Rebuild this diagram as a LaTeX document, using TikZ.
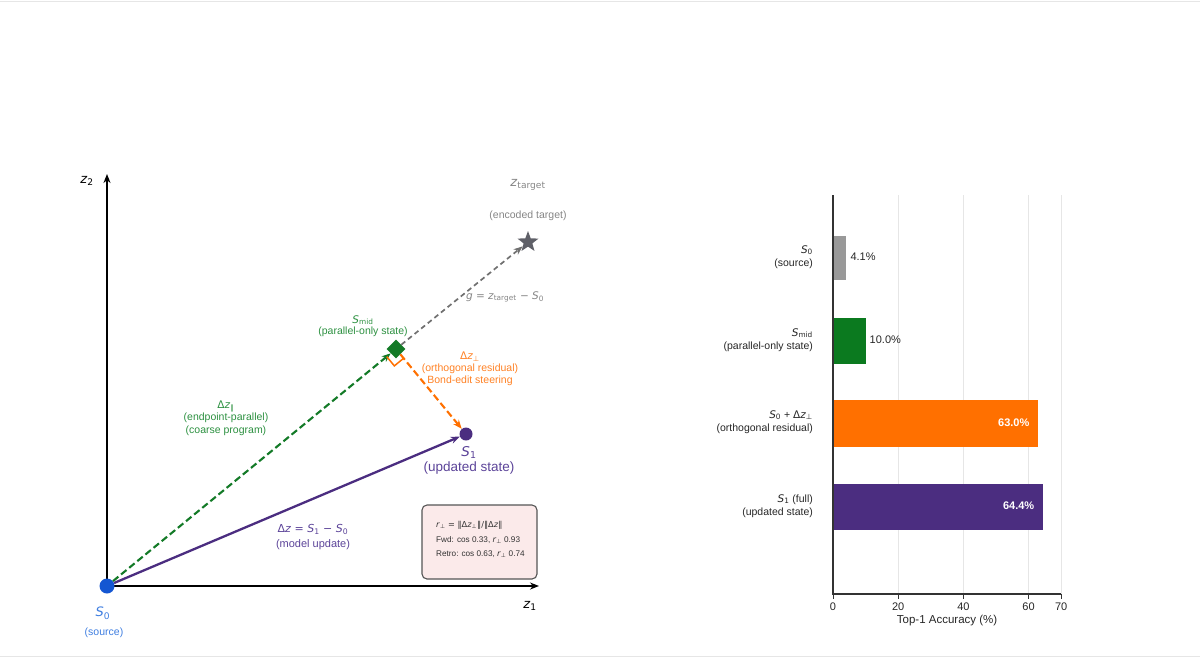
\documentclass[tikz,border=0pt]{standalone}
\usepackage{fontspec}
\setmainfont{Liberation Sans}
\newfontfamily\mfont{DejaVu Sans}
\usepackage{tikz}
\usetikzlibrary{positioning, calc, shapes.geometric, arrows.meta}
\definecolor{SrcBlue}{HTML}{1456D2}
\definecolor{SrcText}{HTML}{3F7EE0}
\definecolor{MidGreen}{HTML}{137A27}
\definecolor{MidText}{HTML}{2C9040}
\definecolor{PerpOrange}{HTML}{FF7000}
\definecolor{PerpText}{HTML}{FF8124}
\definecolor{UpdPurple}{HTML}{4B2D80}
\definecolor{UpdText}{HTML}{5C4499}
\definecolor{TgtGray}{HTML}{5F6068}
\definecolor{TgtLine}{HTML}{707070}
\definecolor{TgtText}{HTML}{858585}
\definecolor{BoxFill}{HTML}{FBEAEA}
\definecolor{BoxEdge}{HTML}{555555}
\definecolor{BarGray}{HTML}{999999}
\definecolor{BarGreen}{HTML}{0B7A1F}
\definecolor{GridGray}{HTML}{E6E6E6}
\definecolor{SpineDark}{HTML}{333333}

\newcommand{\sym}[2]{{\mfont\textit{#1}\textsubscript{#2}}}
\newcommand{\dzs}[1]{{\mfont Δ\textit{z}\textsubscript{#1}}}

\tikzset{
  dot/.style={circle, inner sep=0pt},
  vec/.style={-{Stealth[length=9pt, width=7pt]}},
  lab/.style={font=\fontsize{10.5}{12.5}\selectfont, align=center, inner sep=1pt},
  biglab/.style={font=\fontsize{13}{15}\selectfont, align=center, inner sep=1pt},
  cat/.style={anchor=east, align=right, font=\fontsize{10.5}{13.5}\selectfont, text=black!85, inner sep=1pt},
  tick/.style={font=\fontsize{11}{12}\selectfont, text=black!85, inner sep=1pt}
}

\begin{document}
\begin{tikzpicture}[x=1pt, y=-1pt]
  \useasboundingbox (0,0) rectangle (1200,657);
  % Frame lines
  \draw[GridGray, line width=1pt] (0,1) -- (1200,1);
  \draw[GridGray, line width=1pt] (0,656) -- (1200,656);

  % Axes
  \coordinate (orig) at (107,586);
  \coordinate (z1end) at (539,586);
  \coordinate (z2end) at (107,174);
  \draw[line width=1.4pt, vec] (orig) -- (z1end);
  \draw[line width=1.4pt, vec] (orig) -- (z2end);
  \node[biglab] (z1lab) at (530,606) {\sym{z}{1}};
  \node[biglab] (z2lab) at (87,181) {\sym{z}{2}};

  % Nodes
  \node[dot, fill=SrcBlue, minimum size=15pt] (s0) at (orig) {};
  \node[diamond, fill=MidGreen, minimum size=19pt, inner sep=0pt] (smid) at (396,349) {};
  \node[dot, fill=UpdPurple, minimum size=13pt] (s1) at (466,434) {};
  \node[star, star points=5, star point ratio=2.4, fill=TgtGray, minimum size=22pt, inner sep=0pt] (tgt) at (528,242) {};

  % Vectors
  \draw[vec, MidGreen, line width=2.1pt, dash pattern=on 7pt off 3.5pt] (s0) -- (smid);
  \draw[vec, TgtLine, line width=1.7pt, dash pattern=on 5pt off 3.5pt] (smid) -- (tgt);
  \draw[vec, PerpOrange, line width=2.1pt, dash pattern=on 7pt off 3.5pt] (smid) -- (s1);
  \draw[vec, UpdPurple, line width=2.3pt] (s0) -- (s1);

  % Right angle
  \coordinate (ra1) at ($(smid.center)!12pt!(s0.center)$);
  \coordinate (ra2) at ($(smid.center)!12pt!(s1.center)$);
  \draw[PerpOrange, line width=1.5pt] (ra1) -- ($(ra1)+(ra2)-(smid.center)$) -- (ra2);

  % Labels
  \node[biglab, text=SrcText] (s0name) at (103,613) {\sym{S}{0}};
  \node[lab, text=SrcText] (s0note) at (104,633) {(source)};
  \node[biglab, text=TgtText] (tgtname) at (528,185) {\sym{z}{target}};
  \node[lab, text=TgtText] (tgtnote) at (528,216) {(encoded target)};
  \node[lab, text=TgtText] (glab) at (505,297) {{\mfont\textit{g} = \textit{z}\textsubscript{target} − \textit{S}\textsubscript{0}}};
  \node[lab, text=MidText, font=\fontsize{10.5}{11.5}\selectfont] (smidlab) at (363,326) {\sym{S}{mid}\\(parallel-only state)};
  \node[lab, text=MidText] (parlab) at (226,418) {\dzs{∥}\\(endpoint-parallel)\\(coarse program)};
  \node[lab, text=PerpText, font=\fontsize{10.5}{11.8}\selectfont] (perplab) at (470,369) {\dzs{⊥}\\(orthogonal residual)\\Bond-edit steering};
  \node[biglab, text=UpdText, font=\fontsize{13.5}{15}\selectfont] (s1lab) at (469,460) {\sym{S}{1}\\(updated state)};
  \node[lab, text=UpdText, font=\fontsize{11}{15}\selectfont] (dzlab) at (313,537) {{\mfont Δ\textit{z} = \textit{S}\textsubscript{1} − \textit{S}\textsubscript{0}}\\(model update)};

  % Stats box
  \node[draw=BoxEdge, fill=BoxFill, line width=1.1pt, rounded corners=5pt, minimum width=115pt, minimum height=74pt] (stats) at (479.5,542) {};
  \node[anchor=west, align=left, font=\fontsize{8.2}{14}\selectfont, text=black!80, inner sep=0pt] (statstxt) at (436,539) {{\mfont\textit{r}\textsubscript{⊥} = ‖Δ\textit{z}\textsubscript{⊥}‖/‖Δ\textit{z}‖}\\[1pt]Fwd: cos 0.33, \sym{r}{⊥} 0.93\\Retro: cos 0.63, \sym{r}{⊥} 0.74};

  % Bar chart
  \begin{scope}[shift={(833,0)}, x=3.26pt]
    \foreach \v in {20,40,60,70} \draw[GridGray, line width=0.8pt] (\v,195) -- (\v,594);
    \fill[BarGray] (0,236) rectangle (4.1,280);
    \fill[BarGreen] (0,318) rectangle (10.0,364);
    \fill[PerpOrange] (0,400) rectangle (63.0,447);
    \fill[UpdPurple] (0,484) rectangle (64.4,530);
    \draw[SpineDark, line width=1.5pt] (0,195) -- (0,594) -- (70,594);
    \foreach \v in {0,20,40,60,70} {
      \draw[SpineDark, line width=1pt] (\v,594) -- (\v,599);
      \node[tick] (tick\v) at (\v,607) {\v};
    }
    \node[tick, font=\fontsize{11.5}{12}\selectfont] (xlab) at (35,621) {Top-1 Accuracy (\%)};
    % Values
    \node[tick, anchor=west] (val0) at (5.0,257) {4.1\%};
    \node[tick, anchor=west] (val1) at (10.9,340) {10.0\%};
    \node[tick, anchor=east, text=white, font=\bfseries\fontsize{11}{12}\selectfont] (val2) at (60.6,423) {63.0\%};
    \node[tick, anchor=east, text=white, font=\bfseries\fontsize{11}{12}\selectfont] (val3) at (62.1,506) {64.4\%};
    % Categories
    \node[cat] (cat0) at (-5.8,257) {\sym{S}{0}\\(source)};
    \node[cat] (cat1) at (-5.8,340) {\sym{S}{mid}\\(parallel-only state)};
    \node[cat] (cat2) at (-5.8,422) {\sym{S}{0} + \dzs{⊥}\\(orthogonal residual)};
    \node[cat] (cat3) at (-5.8,506) {\sym{S}{1} (full)\\(updated state)};
  \end{scope}
\end{tikzpicture}
\end{document}
